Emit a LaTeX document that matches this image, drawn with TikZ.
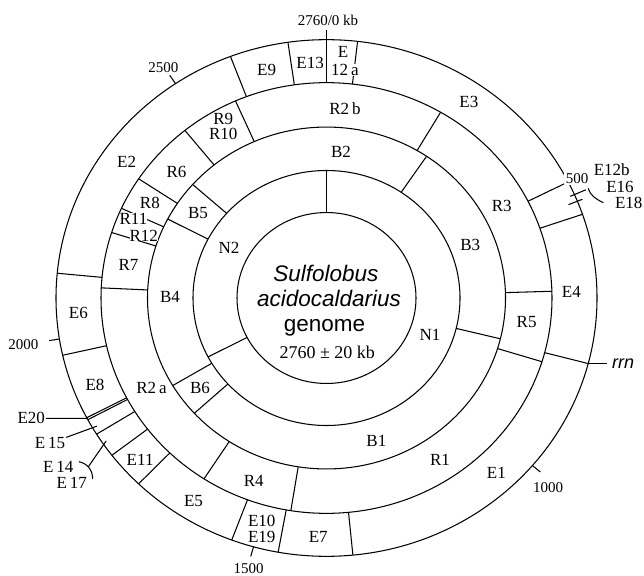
\documentclass[tikz,border=0pt]{standalone}
\usepackage{fontspec}
\setmainfont{Liberation Serif}
\newfontfamily\helvfont{Liberation Sans}
\usetikzlibrary{positioning}

\begin{document}
\begin{tikzpicture}[x=1pt, y=-1pt, line width=1.05pt,
  seg/.style={font=\fontsize{17}{15.5}\selectfont, inner sep=0.5pt, align=center},
  segover/.style={seg, fill=white, inner sep=0pt},
  kbmark/.style={font=\fontsize{15}{15}\selectfont, inner sep=0.5pt},
  outlab/.style={font=\fontsize{17}{17}\selectfont, inner sep=0.5pt},
  species/.style={font=\helvfont\fontsize{22.5}{25}\selectfont, anchor=base, inner sep=0pt}
]
  \useasboundingbox (0,0) rectangle (644,575);
  \begin{scope}[shift={(326.5,298)}, yscale=0.955]
    \foreach \r in {89.5,133.5,179,225.5,270.5}
      \draw (0,0) circle (\r);
    \foreach \a in {0,242.5}
      \draw (\a-90:89.5) -- (\a-90:133.5);
    \foreach \a in {34,103.8,227.6,239.2,297.5,311.6}
      \draw (\a-90:133.5) -- (\a-90:179);
    \foreach \a in {30.4,88.2,107.2,189.1,212.9,272.7,287.7,294.6,303.6,321.1,336.2}
      \draw (\a-90:179) -- (\a-90:225.5);
    \foreach \a in {6.6,63.3,71.1,104.7,174.4,190.3,200.5,224,232.5,238.2,241.9,242.4,257.2,275.5,339.2,351.8}
      \draw (\a-90:225.5) -- (\a-90:270.5);
    \draw (-90:225.5) -- (-90:281);
    \foreach \k in {1000,1500,2000,2500}
      \draw (\k/2760*360-90:270.5) -- (\k/2760*360-90:281);
    \draw (66.4-90:266) -- (66.4-90:283);
    \draw (68-90:261) -- (68-90:276);
    \draw (104.7-90:270.5) -- ++(19,0)
      node[right=4pt, font=\helvfont\itshape\fontsize{18}{18}\selectfont, inner sep=0.5pt] (rrn) {rrn};

    \coordinate (e20p) at (242.2-90:270.5);
    \coordinate (e15p) at (239.7-90:266);
    \coordinate (e14p) at (235.8-90:266.5);

    \node[seg] (n1) at (110.5-90:110.5) {N1};
    \node[seg] (n2) at (298.3-90:110.7) {N2};

    \node[seg] (b1) at (161.6-90:158) {B1};
    \node[seg] (b2) at (5.4-90:153.6) {B2};
    \node[seg] (b3) at (68.9-90:154) {B3};
    \node[seg] (b4) at (270.4-90:156.5) {B4};
    \node[seg] (b5) at (304.7-90:156.3) {B5};
    \node[seg] (b6) at (233.2-90:158) {B6};

    \node[seg] (r1) at (146.2-90:204) {R1};
    \node[seg] (r2a) at (241.6-90:199) {R2\,a};
    \node[seg] (r2b) at (5.3-90:199.5) {R2\,b};
    \node[seg] (r3) at (61.2-90:200) {R3};
    \node[seg] (r4) at (200.8-90:205) {R4};
    \node[seg] (r5) at (97.1-90:201.7) {R5};
    \node[seg] (r6) at (311.4-90:200) {R6};
    \node[seg] (r7) at (279.9-90:201) {R7};
    \node[seg] (r8) at (299.3-90:202.5) {R8};
    \node[seg] (r9) at (330.1-90:207) {R9\\R10};
    \node[segover] (r11) at (293.2-90:210) {R11};
    \node[segover] (r12) at (289.6-90:194) {R12};

    \node[seg] (e1) at (137.2-90:250) {E1};
    \node[seg] (e2) at (305.5-90:245.5) {E2};
    \node[seg] (e3) at (34.7-90:250) {E3};
    \node[seg] (e4) at (88.5-90:245) {E4};
    \node[seg] (e5) at (212-90:251) {E5};
    \node[seg] (e6) at (266.3-90:248.7) {E6};
    \node[seg] (e7) at (181.9-90:250) {E7};
    \node[seg] (e8) at (248.5-90:248.8) {E8};
    \node[seg] (e9) at (345.9-90:246) {E9};
    \node[seg] (e10) at (195-90:250.4) {E10\\E19};
    \node[seg] (e11) at (227.7-90:252) {E11};
    \node[seg] (e12) at (3.7-90:258.4) {E};
    \node[segover] (e12a) at (4.4-90:239.4) {12\,a};
    \node[seg] (e13) at (356.2-90:246.3) {E13};

    \node[kbmark] (k0) at (0.3-90:291) {2760/0 kb};
    \node[kbmark, fill=white, inner sep=2pt] (k500) at (63.4-90:280.4) {500};
    \node[kbmark] (k1000) at (131.9-90:297.8) {1000};
    \node[kbmark] (k1500) at (195.4-90:293.6) {1500};
    \node[kbmark] (k2000) at (260.8-90:307) {2000};
    \node[kbmark] (k2500) at (326-90:291.5) {2500};
  \end{scope}

  \node[species] (sulf) at (325.8,281.7) {\itshape Sulfolobus};
  \node[species] (acido) at (329,306.7) {\itshape acidocaldarius};
  \node[species] (genome) at (324.5,331.7) {genome};
  \node[font=\fontsize{18}{18}\selectfont, anchor=base, inner sep=0pt] (gsize) at (327.2,358.3) {2760 ± 20 kb};

  \node[outlab] (e20) at (31.2,418.3) {E20};
  \node[outlab] (e15) at (50,443.3) {E\,15};
  \node[outlab] (e14) at (58.3,466.7) {E\,14};
  \node[outlab] (e17) at (71.7,483.3) {E\,17};
  \coordinate (brk) at (88.5,466.5);
  \draw (e20) -- (e20p);
  \draw (e15) -- (e15p);
  \draw (79,461.7) .. controls (88,464) and (92.5,470) .. (92.7,479);
  \draw (brk) -- (e14p);

  \node[outlab] (e12b) at (611.7,170) {E12b};
  \node[outlab] (e16) at (620,187.3) {E16};
  \node[outlab, anchor=east] (e18) at (643.5,202.7) {E18};
  \draw (588.3,188.3) .. controls (590.5,196) and (596,199) .. (603.3,202.7);
\end{tikzpicture}
\end{document}
